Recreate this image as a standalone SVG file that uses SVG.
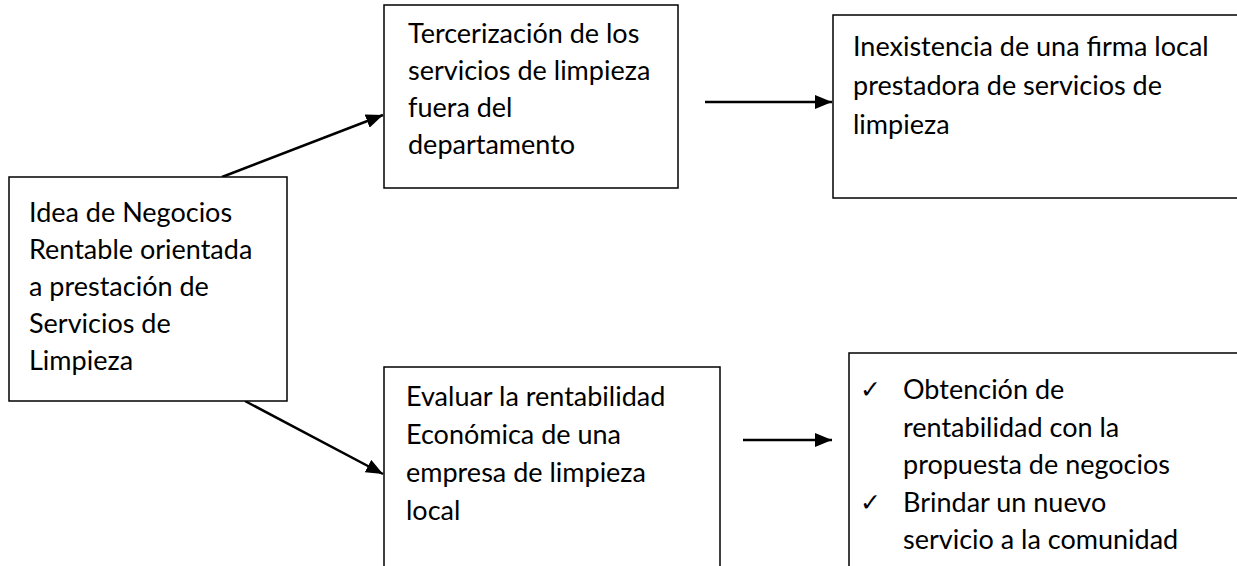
<svg xmlns="http://www.w3.org/2000/svg" width="1237" height="566" viewBox="0 0 1237 566">
<style>
.box{fill:#fff;stroke:#000;stroke-width:1.5}
.t{font-family:"Lato","Liberation Sans",sans-serif;font-size:27px;fill:#000}
.chk{font-family:"DejaVu Sans",sans-serif;font-size:25px;fill:#000}
.c{stroke:#000;stroke-width:2.5;fill:none}
</style>
<defs>
<marker id="ah" markerWidth="17" markerHeight="14" refX="17" refY="7" orient="auto" markerUnits="userSpaceOnUse" viewBox="0 0 17 14">
<path d="M0,0 L17,7 L0,14 Z" fill="#000"/>
</marker>
</defs>
<rect width="1237" height="566" fill="#fff"/>
<g id="connectors">
<line class="c" x1="222" y1="177" x2="383" y2="115" marker-end="url(#ah)"/>
<line class="c" x1="245" y1="401" x2="383" y2="474" marker-end="url(#ah)"/>
<line class="c" x1="705" y1="102" x2="832" y2="102" marker-end="url(#ah)"/>
<line class="c" x1="743" y1="440" x2="832" y2="440" marker-end="url(#ah)"/>
</g>
<g id="idea">
<rect class="box" x="9" y="177" width="278" height="224"/>
<text class="t" x="29" y="222">Idea de Negocios</text>
<text class="t" x="29" y="259">Rentable orientada</text>
<text class="t" x="29" y="296">a prestación de</text>
<text class="t" x="29" y="333">Servicios de</text>
<text class="t" x="29" y="370">Limpieza</text>
</g>
<g id="tercerizacion">
<rect class="box" x="384" y="5" width="294" height="183"/>
<text class="t" x="408" y="43">Tercerización de los</text>
<text class="t" x="408" y="80">servicios de limpieza</text>
<text class="t" x="408" y="117">fuera del</text>
<text class="t" x="408" y="154">departamento</text>
</g>
<g id="inexistencia">
<rect class="box" x="833" y="15" width="420" height="183"/>
<text class="t" x="853" y="56">Inexistencia de una firma local</text>
<text class="t" x="853" y="95">prestadora de servicios de</text>
<text class="t" x="853" y="134">limpieza</text>
</g>
<g id="evaluar">
<rect class="box" x="384" y="367" width="336" height="220"/>
<text class="t" x="406" y="406">Evaluar la rentabilidad</text>
<text class="t" x="406" y="444">Económica de una</text>
<text class="t" x="406" y="482">empresa de limpieza</text>
<text class="t" x="406" y="520">local</text>
</g>
<g id="resultados">
<rect class="box" x="849" y="353" width="420" height="240"/>
<text class="chk" x="860" y="398">✓</text>
<text class="t" x="903" y="399">Obtención de</text>
<text class="t" x="903" y="437">rentabilidad con la</text>
<text class="t" x="903" y="474">propuesta de negocios</text>
<text class="chk" x="860" y="511">✓</text>
<text class="t" x="903" y="512">Brindar un nuevo</text>
<text class="t" x="903" y="549">servicio a la comunidad</text>
</g>
</svg>
